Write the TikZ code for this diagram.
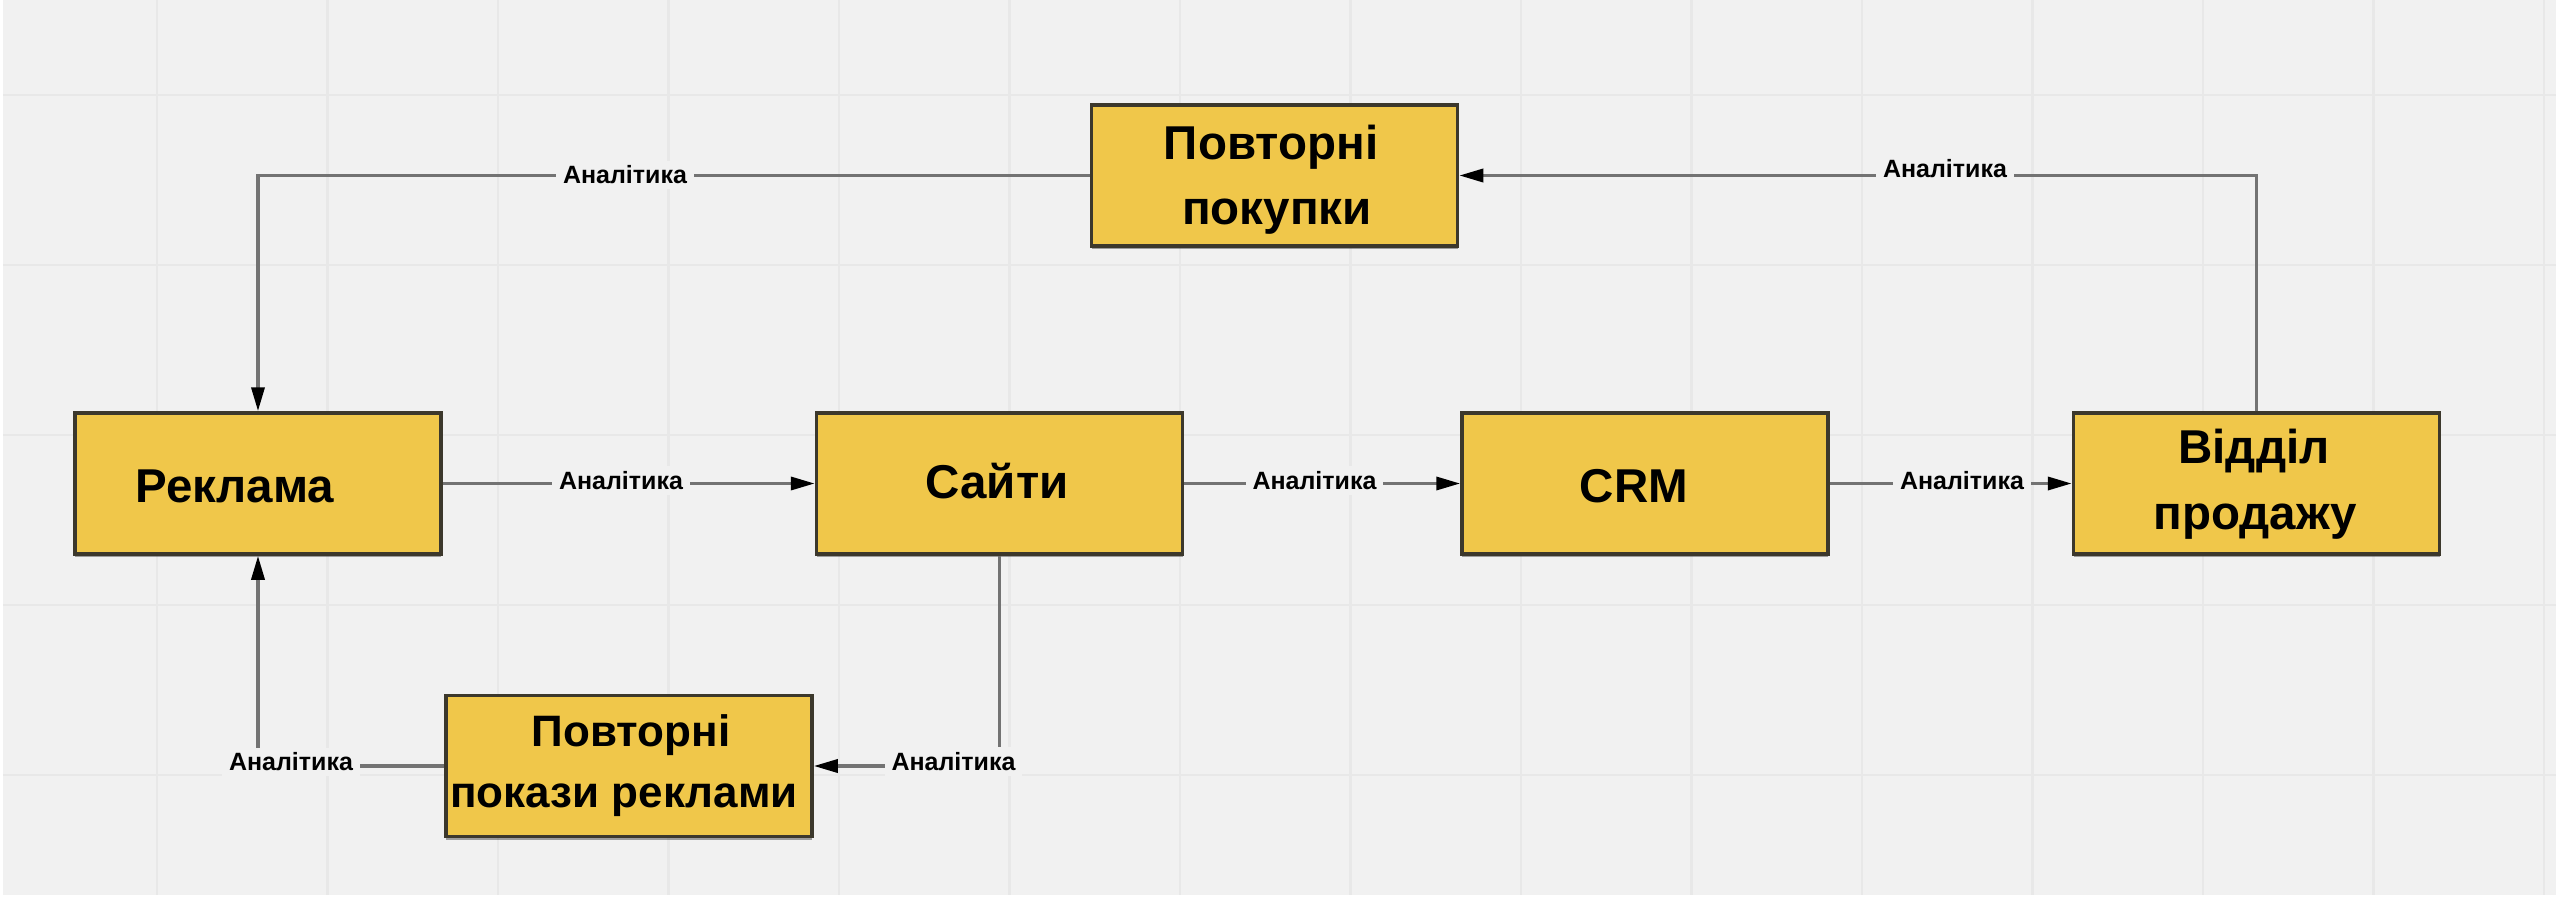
\documentclass[tikz,border=0pt]{standalone}
\usepackage{fontspec}
\setmainfont{Liberation Sans}
\usetikzlibrary{arrows.meta,shadows}
\definecolor{bgc}{RGB}{241,241,241}
\definecolor{gridc}{RGB}{232,232,232}
\definecolor{boxfill}{RGB}{240,199,74}
\definecolor{boxline}{RGB}{60,56,44}
\definecolor{linec}{RGB}{115,115,115}
\tikzset{
  box/.style={draw=boxline, line width=3.5pt, fill=boxfill, minimum width=366pt, minimum height=141pt, inner sep=0pt,
    drop shadow={shadow xshift=0pt, shadow yshift=-3pt, opacity=0.35, fill=black}},
  boxtext/.style={anchor=base, inner sep=0pt, font=\fontsize{47.5}{52}\selectfont\bfseries},
  boxtextn/.style={anchor=base, inner sep=0pt, font=\fontsize{44}{52}\selectfont\bfseries},
  conn/.style={draw=linec, line width=3.5pt, -{Triangle[length=24pt,width=13pt,fill=black,color=black]}},
  lab/.style={fill=bgc, inner xsep=7pt, inner ysep=5pt, font=\fontsize{25}{28}\selectfont\bfseries}
}
\begin{document}
\begin{tikzpicture}[x=1pt,y=-1pt]
\useasboundingbox (0,0) rectangle (2556,899);
\fill[white] (0,0) rectangle (2556,899);
\fill[bgc] (3,0) rectangle (2556,895);
\foreach \k in {0,...,14} {\draw[gridc, line width=2.5pt] ({157+170.5*\k},0) -- ({157+170.5*\k},895);}
\foreach \y in {95,265,435,605,775} {\draw[gridc, line width=2.5pt] (3,\y) -- (2556,\y);}

\node[box] (rek) at (258,483.5) {};
\node[box] (sait) at (999.5,483.5) {};
\node[box] (crm) at (1645,483.5) {};
\node[box] (vid) at (2256.5,483.5) {};
\node[box] (pp) at (1274.5,175.5) {};
\node[box] (pr) at (629,766) {};

\node[boxtext] (trek) at (235,502) {Реклама};
\node[boxtext] (tsait) at (997,498) {Сайти};
\node[boxtext] (tcrm) at (1634,502) {CRM};
\node[boxtext] (tvid1) at (2254,463) {Відділ};
\node[boxtext] (tvid2) at (2255,529) {продажу};
\node[boxtext] (tpp1) at (1271,159) {Повторні};
\node[boxtext] (tpp2) at (1277,224) {покупки};
\node[boxtextn] (tpr1) at (631,746) {Повторні};
\node[boxtextn] (tpr2) at (624,807) {покази реклами};

\draw[conn] (rek.east) -- (sait.west);
\draw[conn] (sait.east) -- (crm.west);
\draw[conn] (crm.east) -- (vid.west);
\draw[conn] (vid.north) |- (pp.east);
\draw[conn] (pp.west) -| (rek.north);
\draw[conn] (sait.south) |- (pr.east);
\draw[conn] (pr.west) -| (rek.south);

\node[lab] (l1) at (621,480.5) {Аналітика};
\node[lab] (l2) at (1314.5,480.5) {Аналітика};
\node[lab] (l3) at (1962,480.5) {Аналітика};
\node[lab] (l4) at (1945,168.5) {Аналітика};
\node[lab] (l5) at (625,175) {Аналітика};
\node[lab] (l6) at (953.5,761.5) {Аналітика};
\node[lab] (l7) at (291,762) {Аналітика};
\end{tikzpicture}
\end{document}
